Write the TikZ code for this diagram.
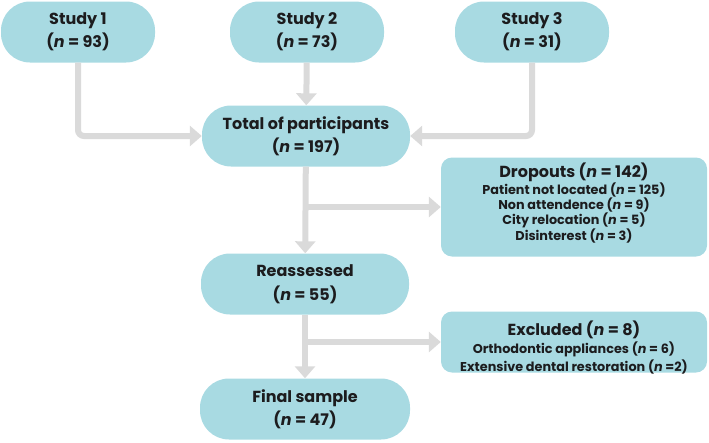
\documentclass[tikz,border=0pt]{standalone}
\usepackage{fontspec}
\setmainfont{Poppins}
\usetikzlibrary{arrows.meta,positioning}
\definecolor{sky}{RGB}{168,218,226}
\definecolor{mist}{RGB}{218,218,218}
\definecolor{ink}{RGB}{28,28,30}
\tikzset{
  >={Triangle[length=12pt,width=20pt]},
  stage/.style={fill=sky,rounded corners=29pt,minimum width=154pt,minimum height=61pt,
    align=center,text=ink,font=\fontsize{16}{23}\selectfont\bfseries},
  panel/.style={fill=sky,rounded corners=11pt,minimum width=266pt},
  note/.style={align=center,text=ink,font=\fontsize{12.8}{#1}\selectfont\bfseries},
  note/.default=14.7,
  flow/.style={->,line width=6pt,draw=mist,rounded corners=6pt},
}
\newcommand{\nn}{\textit{n}}
\newcommand{\headline}[1]{{\fontsize{16}{18}\selectfont #1}}

\begin{document}
\begin{tikzpicture}[x=1pt,y=-1pt]
  \useasboundingbox (0,0) rectangle (709,442);
  % studies
  \node[stage] (s1) at (78,32) {Study 1\\(\nn{} = 93)};
  \node[stage] (s2) at (307,32) {Study 2\\(\nn{} = 73)};
  \node[stage] (s3) at (532,32) {Study 3\\(\nn{} = 31)};
  % main column
  \node[stage,minimum width=208pt] (tot) at (306,136) {Total of participants\\(\nn{} = 197)};
  \node[stage,minimum width=208pt,font=\fontsize{16}{24}\selectfont\bfseries] (re) at (305,284) {Reassessed\\(\nn{} = 55)};
  \node[stage,minimum width=210pt] (fin) at (305,409) {Final sample\\(\nn{} = 47)};
  % side boxes
  \node[panel,minimum height=99pt] (drop) at (574,207) {};
  \node[note] (dropt) at (574,203) {\headline{Dropouts (\nn{} = 142)}\\
    Patient not located (\nn{} = 125)\\Non attendence (\nn{} = 9)\\City relocation (\nn{} = 5)\\Disinterest (\nn{} = 3)};
  \node[panel,minimum height=61pt] (exc) at (574,342) {};
  \node[note=18] (exct) at (574,348) {\headline{Excluded (\nn{} = 8)}\\
    Orthodontic appliances (\nn{} = 6)\\Extensive dental restoration (\nn{} =2)};
  % arrows
  \draw[flow] (s1.south) |- (tot.west);
  \draw[flow] (s2) -- (tot);
  \draw[flow] (s3.south) |- (tot.east);
  \draw[flow] (tot) -- (re);
  \draw[flow] (re) -- (fin);
  \coordinate (b1) at (tot.south |- drop.west);
  \coordinate (b2) at (re.south |- exc.west);
  \draw[flow] (b1) -- (drop.west);
  \draw[flow] (b2) -- (exc.west);
\end{tikzpicture}
\end{document}
